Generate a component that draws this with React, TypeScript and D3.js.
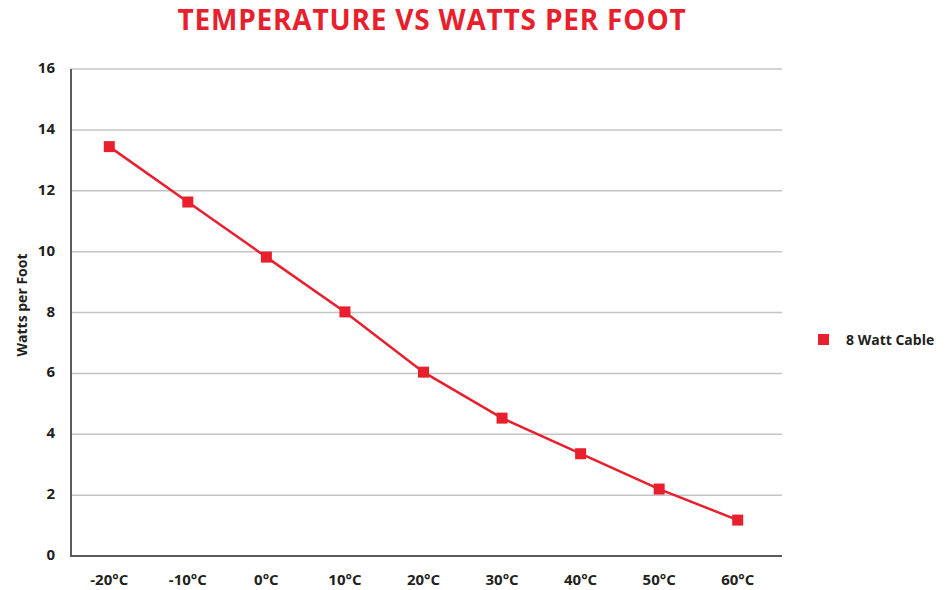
import React from 'react';
import * as d3 from 'd3';

// chart data
const temperatures = ['-20°C', '-10°C', '0°C', '10°C', '20°C', '30°C', '40°C', '50°C', '60°C'];
const watts = [13.45, 11.63, 9.82, 8.02, 6.04, 4.53, 3.36, 2.2, 1.18];
const yTicks = [0, 2, 4, 6, 8, 10, 12, 14, 16];
const seriesName = '8 Watt Cable';

const W = 948;
const H = 590;
const RED = '#e81f2d';
const INK = '#231f20';
const FONT = '"Open Sans", Lato, sans-serif';

const App: React.FC = () => {
  const left = 71;
  const right = 782;
  const top = 69;
  const bottom = 556;

  // points sit a little left of the gridline end, as in the original
  const x = d3.scalePoint<string>().domain(temperatures).range([70, 777]).padding(0.5);
  const y = d3.scaleLinear().domain([0, 16]).range([bottom, top]);

  const line = d3
    .line<number>()
    .x((_, i) => x(temperatures[i]) as number)
    .y((d) => y(d));

  const sq = 11;

  return (
    <svg
      width={W}
      height={H}
      style={{ position: 'absolute', left: 0, top: 0, background: '#fff' }}
      fontFamily={FONT}
    >
      <text x={432} y={30} textAnchor="middle" fill={RED} fontSize={28} fontWeight={700} letterSpacing={0.8}>
        TEMPERATURE VS WATTS PER FOOT
      </text>

      {/* gridlines */}
      {yTicks.slice(1).map((t) => (
        <line key={t} x1={left} x2={right} y1={y(t)} y2={y(t)} stroke="#c4c4c6" strokeWidth={1.5} />
      ))}

      {/* axes */}
      <line x1={left} x2={left} y1={top} y2={bottom + 1} stroke="#5b5b5d" strokeWidth={2} />
      <line x1={left} x2={right} y1={bottom} y2={bottom} stroke="#5b5b5d" strokeWidth={2} />

      {yTicks.map((t) => (
        <text key={t} x={55} y={y(t) + 4} textAnchor="end" fontSize={15} fontWeight={700} fill={INK}>
          {t}
        </text>
      ))}

      {temperatures.map((c) => (
        <text key={c} x={x(c)} y={585} textAnchor="middle" fontSize={15} fontWeight={700} fill={INK}>
          {c}
        </text>
      ))}

      <text
        transform={`translate(27,305) rotate(-90)`}
        textAnchor="middle"
        fontSize={14}
        fontWeight={700}
        fill={INK}
      >
        Watts per Foot
      </text>

      {/* series */}
      <path d={line(watts) || ''} fill="none" stroke={RED} strokeWidth={2.5} />
      {watts.map((v, i) => (
        <rect
          key={i}
          x={(x(temperatures[i]) as number) - sq / 2}
          y={y(v) - sq / 2}
          width={sq}
          height={sq}
          fill={RED}
        />
      ))}

      {/* legend */}
      <rect x={818} y={334} width={11} height={11} fill={RED} />
      <text x={846} y={345} fontSize={14} fontWeight={700} fill={INK}>
        {seriesName}
      </text>
    </svg>
  );
};

export default App;
